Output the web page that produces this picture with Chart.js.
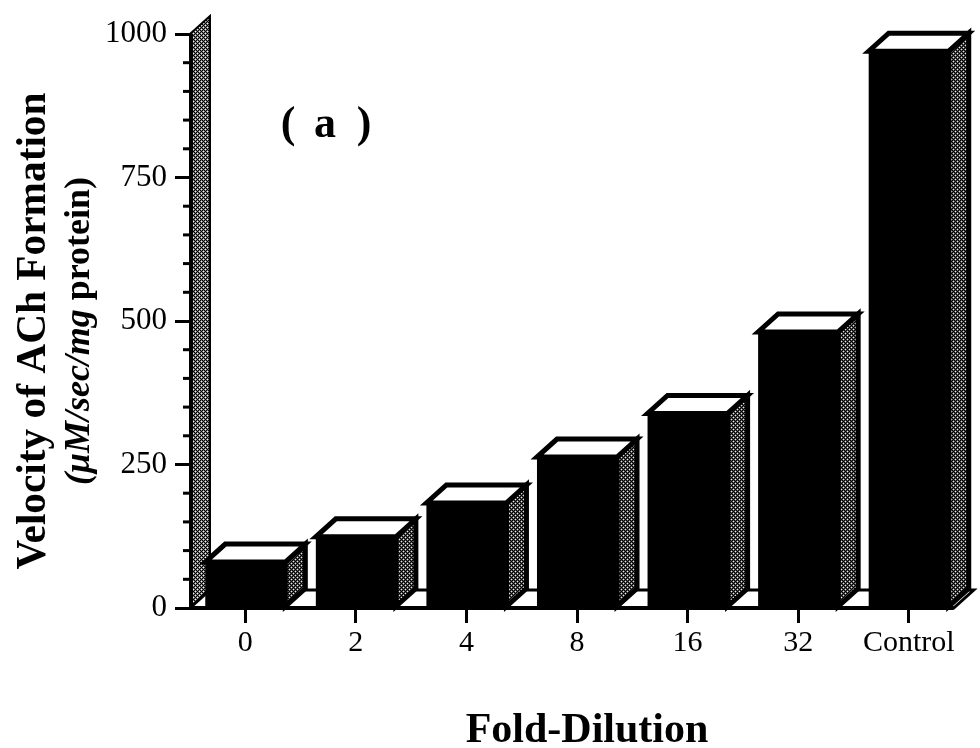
<!DOCTYPE html>
<html>
<head>
<meta charset="utf-8">
<script src="https://cdn.jsdelivr.net/npm/chart.js@4.4.1/dist/chart.umd.min.js"></script>
<style>
  html, body { margin: 0; padding: 0; background: #fff; }
  #wrap { position: relative; width: 980px; height: 748px; }
</style>
</head>
<body>
<div id="wrap"><canvas id="velocityChart"></canvas></div>
<script>
const dilutions = ['0', '2', '4', '8', '16', '32', 'Control'];
const velocity = [80, 124, 183, 263, 339, 481, 970];
const yMajorStep = 250;
const yMinorStep = 50;
const yMax = 1000;

// 3D box offset (px) for the bar tops, sides, wall and floor
const DEPTH_X = 20, DEPTH_Y = -18;
const SERIF = '"Liberation Serif", "Times New Roman", serif';

// screen-tone: light dots on black in a diagonal grid
function dotTile(halo, dot) {
  const tile = document.createElement('canvas');
  tile.width = 4; tile.height = 4;
  const t = tile.getContext('2d');
  t.fillStyle = '#000'; t.fillRect(0, 0, 4, 4);
  [[1, 1], [3, 3]].forEach(([cx, cy]) => {
    t.fillStyle = halo;
    t.fillRect((cx + 3) % 4, cy, 1, 1); t.fillRect((cx + 1) % 4, cy, 1, 1);
    t.fillRect(cx, (cy + 3) % 4, 1, 1); t.fillRect(cx, (cy + 1) % 4, 1, 1);
    t.fillStyle = dot;
    t.fillRect(cx, cy, 1, 1);
  });
  return tile;
}

const box3d = {
  id: 'box3d',
  beforeDatasetsDraw(chart) {
    const { ctx, chartArea, scales } = chart;
    const wallFill = ctx.createPattern(dotTile('#7a7a7a', '#f4f4f4'), 'repeat');
    const left = chartArea.left, base = scales.y.getPixelForValue(0);
    const top = scales.y.getPixelForValue(yMax);
    const meta = chart.getDatasetMeta(0);
    const last = meta.data[meta.data.length - 1];
    const floorRight = last.x + last.width / 2 + 5;

    ctx.save();
    ctx.lineJoin = 'miter';
    // back wall
    ctx.beginPath();
    ctx.moveTo(left, base);
    ctx.lineTo(left, top);
    ctx.lineTo(left + DEPTH_X, top + DEPTH_Y);
    ctx.lineTo(left + DEPTH_X, base + DEPTH_Y);
    ctx.closePath();
    ctx.fillStyle = wallFill;
    ctx.fill();
    ctx.strokeStyle = '#000';
    ctx.lineWidth = 2;
    ctx.stroke();
    ctx.beginPath();
    ctx.moveTo(left + 1, base);
    ctx.lineTo(left + 1, top);
    ctx.lineWidth = 4;
    ctx.stroke();
    // floor
    ctx.beginPath();
    ctx.moveTo(left, base);
    ctx.lineTo(floorRight, base);
    ctx.lineTo(floorRight + DEPTH_X, base + DEPTH_Y);
    ctx.lineTo(left + DEPTH_X, base + DEPTH_Y);
    ctx.closePath();
    ctx.fillStyle = '#fff';
    ctx.fill();
    ctx.lineWidth = 3;
    ctx.stroke();
    ctx.beginPath();
    ctx.moveTo(left, base);
    ctx.lineTo(floorRight, base);
    ctx.lineWidth = 4;
    ctx.stroke();
    ctx.restore();
  },
  afterDatasetsDraw(chart) {
    const { ctx, chartArea, scales } = chart;
    const sideFill = ctx.createPattern(dotTile('#555', '#e8e8e8'), 'repeat');
    ctx.save();
    ctx.strokeStyle = '#000';
    ctx.lineJoin = 'miter';
    chart.getDatasetMeta(0).data.forEach(bar => {
      const l = bar.x - bar.width / 2, r = bar.x + bar.width / 2;
      const y = bar.y, b = bar.base;
      // side face
      ctx.beginPath();
      ctx.moveTo(r, y);
      ctx.lineTo(r + DEPTH_X, y + DEPTH_Y);
      ctx.lineTo(r + DEPTH_X, b + DEPTH_Y);
      ctx.lineTo(r, b);
      ctx.closePath();
      ctx.fillStyle = sideFill;
      ctx.fill();
      ctx.lineWidth = 5;
      ctx.stroke();
      // top face
      ctx.beginPath();
      ctx.moveTo(l, y);
      ctx.lineTo(r, y);
      ctx.lineTo(r + DEPTH_X, y + DEPTH_Y);
      ctx.lineTo(l + DEPTH_X, y + DEPTH_Y);
      ctx.closePath();
      ctx.fillStyle = '#fff';
      ctx.fill();
      ctx.lineWidth = 5;
      ctx.stroke();
    });

    // minor ticks on the value axis
    ctx.lineWidth = 3;
    for (let v = yMinorStep; v < yMax; v += yMinorStep) {
      if (v % yMajorStep === 0) continue;
      const py = scales.y.getPixelForValue(v);
      ctx.beginPath();
      ctx.moveTo(chartArea.left - 7, py);
      ctx.lineTo(chartArea.left, py);
      ctx.stroke();
    }
    ctx.restore();
  },
  afterDraw(chart) {
    const ctx = chart.ctx;
    ctx.save();
    ctx.fillStyle = '#000';
    ctx.textBaseline = 'alphabetic';

    // value axis title, two lines
    const line1 = 'Velocity of ACh Formation';
    ctx.save();
    ctx.translate(45, 331);
    ctx.rotate(-Math.PI / 2);
    ctx.font = 'bold 42px ' + SERIF;
    ctx.textAlign = 'center';
    const w1 = ctx.measureText(line1).width;
    ctx.scale(477 / w1, 1);
    ctx.fillText(line1, 0, 0);
    ctx.restore();

    const unitA = '(\u03BCM/sec/mg', unitB = ' protein)';
    ctx.save();
    ctx.translate(89, 331);
    ctx.rotate(-Math.PI / 2);
    ctx.textAlign = 'left';
    const fontA = 'italic bold 35px ' + SERIF, fontB = 'bold 35px ' + SERIF;
    ctx.font = fontA; const wa = ctx.measureText(unitA).width;
    ctx.font = fontB; const wb = ctx.measureText(unitB).width;
    ctx.scale(308 / (wa + wb), 1);
    ctx.font = fontA; ctx.fillText(unitA, -(wa + wb) / 2, 0);
    ctx.font = fontB; ctx.fillText(unitB, -(wa + wb) / 2 + wa, 0);
    ctx.restore();

    // panel tag
    ctx.font = 'bold 44px ' + SERIF;
    ctx.textAlign = 'center';
    ctx.fillText('(', 288, 137);
    ctx.fillText('a', 325, 137);
    ctx.fillText(')', 364, 137);

    // category axis title
    ctx.font = 'bold 42px ' + SERIF;
    ctx.fillText('Fold-Dilution', 587, 742);
    ctx.restore();
  }
};

new Chart(document.getElementById('velocityChart'), {
  type: 'bar',
  data: {
    labels: dilutions,
    datasets: [{
      data: velocity,
      backgroundColor: '#000',
      borderWidth: 0,
      categoryPercentage: 1,
      barPercentage: 0.724
    }]
  },
  options: {
    responsive: true,
    maintainAspectRatio: false,
    animation: false,
    layout: { padding: { left: 0, top: 34, right: 16, bottom: 0 } },
    plugins: { legend: { display: false }, tooltip: { enabled: false } },
    scales: {
      x: {
        afterFit(scale) { scale.height = 140; },
        border: { display: false },
        grid: {
          offset: false, drawOnChartArea: false, drawTicks: true,
          tickLength: 15, tickWidth: 3, lineWidth: 3, tickColor: '#000', color: '#000'
        },
        ticks: { color: '#000', padding: 2, font: { family: SERIF, size: 30 } }
      },
      y: {
        min: 0,
        max: yMax,
        afterFit(scale) { scale.width = 190; },
        border: { display: false },
        grid: {
          drawOnChartArea: false, drawTicks: true,
          tickLength: 15, tickWidth: 3, lineWidth: 3, tickColor: '#000', color: '#000'
        },
        ticks: {
          stepSize: yMajorStep, autoSkip: false, color: '#000', padding: 8,
          font: { family: SERIF, size: 31 },
          callback: value => String(value)
        }
      }
    }
  },
  plugins: [box3d]
});
</script>
</body>
</html>
